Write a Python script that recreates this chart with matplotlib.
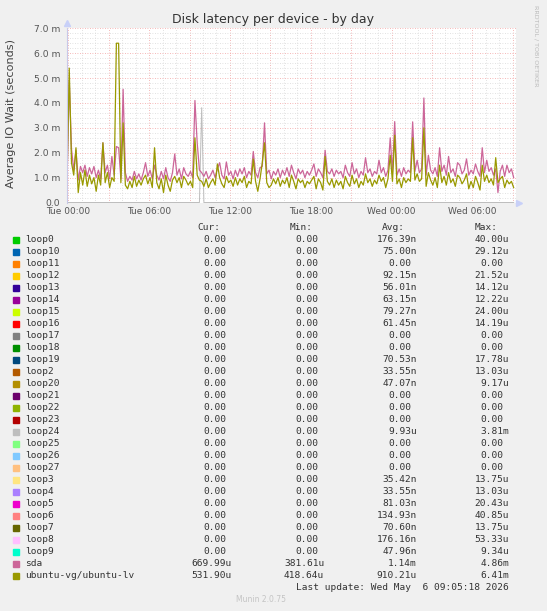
import numpy as np
import matplotlib
matplotlib.use('Agg')
import matplotlib.pyplot as plt
from matplotlib.patches import Rectangle

# ---- data (milliseconds of IO wait, sampled every 10 min from Mon 23:54) ----
sda = [
    0.85, 4.90, 2.15, 1.30, 2.10, 0.90, 1.45, 1.20, 1.50, 1.05, 1.40, 1.15,
    1.45, 1.00, 1.30, 0.95, 2.40, 1.20, 1.50, 0.95, 1.85, 1.10, 2.25, 2.20,
    0.95, 4.55, 1.20, 0.85, 1.05, 0.90, 1.25, 0.95, 1.15, 0.90, 1.20, 1.60,
    1.05, 1.30, 0.95, 1.50, 1.10, 0.90, 1.25, 0.95, 1.40, 1.00, 0.85, 1.20,
    1.95, 1.10, 1.35, 0.95, 1.40, 1.15, 1.05, 1.25, 1.00, 4.10, 2.40, 1.30,
    1.20, 1.05, 1.25, 0.95, 1.10, 1.30, 1.00, 1.35, 1.60, 1.10, 0.95, 1.63,
    1.10, 1.25, 0.95, 1.30, 1.05, 1.35, 1.15, 1.40, 1.00, 1.25, 1.10, 2.05,
    1.20, 1.00, 1.40, 1.45, 3.20, 1.15, 1.30, 0.95, 1.25, 1.10, 1.35, 1.00,
    1.30, 1.10, 1.40, 1.05, 1.50, 1.20, 0.95, 1.35, 1.15, 1.30, 1.00, 1.25,
    1.10, 1.30, 1.55, 1.05, 1.35, 1.20, 1.00, 2.10, 1.25, 1.15, 1.35, 1.05,
    1.30, 1.15, 1.25, 1.00, 1.50, 1.20, 1.05, 1.60, 1.15, 1.35, 1.00, 1.25,
    1.10, 1.80, 1.20, 1.35, 1.05, 1.25, 1.15, 1.70, 1.20, 1.40, 1.05, 1.30,
    2.60, 1.20, 3.25, 1.10, 1.35, 1.05, 1.40, 1.15, 1.30, 1.20, 3.24, 1.25,
    1.70, 1.20, 1.35, 4.20, 1.10, 1.90, 1.30, 1.15, 1.40, 1.05, 2.20, 1.25,
    1.50, 1.10, 1.85, 1.20, 1.35, 1.05, 1.60, 1.50, 1.15, 1.30, 1.75, 1.10,
    1.30, 1.15, 1.55, 1.25, 1.05, 2.20, 1.20, 1.70, 1.25, 1.40, 1.10, 1.35,
    0.40, 1.25, 1.50, 1.05, 1.50, 1.20, 1.35, 1.00,
]
ubuntu_lv = [
    0.80, 5.40, 1.60, 1.10, 2.20, 0.40, 1.20, 0.70, 1.30, 0.65, 1.10, 0.75,
    1.00, 0.45, 1.10, 0.70, 2.40, 0.80, 1.20, 0.60, 1.00, 0.85, 6.40, 6.40,
    0.80, 3.20, 0.70, 0.55, 0.85, 0.60, 1.05, 0.65, 0.90, 0.70, 0.95, 1.10,
    0.75, 1.00, 0.60, 2.20, 0.80, 0.55, 0.95, 0.40, 1.10, 0.70, 0.45, 0.90,
    1.05, 0.80, 1.00, 0.60, 1.05, 0.90, 0.70, 0.85, 0.60, 2.60, 1.10, 0.90,
    0.85, 0.65, 0.95, 0.60, 0.80, 0.95, 0.70, 1.55, 1.00, 0.75, 0.60, 1.05,
    0.80, 0.90, 0.65, 1.00, 0.70, 0.95, 0.80, 1.05, 0.60, 0.85, 0.75, 1.75,
    0.85, 0.45, 0.95, 1.60, 2.40, 0.80, 0.60, 0.70, 0.95, 0.75, 1.00, 0.65,
    0.90, 0.75, 1.00, 0.60, 1.10, 0.85, 0.55, 0.95, 0.80, 0.90, 0.60, 0.85,
    0.75, 0.90, 1.05, 0.55, 0.95, 0.80, 0.50, 1.85, 0.85, 0.70, 0.95, 0.60,
    0.90, 0.70, 0.85, 0.55, 1.05, 0.80, 0.65, 1.10, 0.75, 0.95, 0.60, 0.85,
    0.70, 1.15, 0.80, 0.95, 0.65, 0.90, 0.75, 1.10, 0.85, 1.00, 0.60, 0.95,
    1.90, 0.85, 2.70, 0.75, 0.95, 0.60, 1.00, 0.80, 0.95, 0.85, 2.60, 0.90,
    1.15, 0.85, 0.95, 3.00, 0.65, 1.20, 0.90, 0.70, 1.00, 0.60, 1.50, 0.80,
    1.05, 0.70, 1.20, 0.80, 0.95, 0.65, 1.10, 1.00, 0.75, 0.90, 1.15, 0.55,
    0.85, 0.60, 1.05, 0.80, 0.50, 1.50, 0.85, 1.10, 0.80, 0.95, 0.70, 1.80,
    0.80, 0.95, 1.05, 0.60, 0.90, 0.75, 0.85, 0.60,
]
# loop devices are flat at zero except the one loop24 spike
loop24_spike_index = 60
loop24_spike_value = 3.81

names = ['loop0', 'loop10', 'loop11', 'loop12', 'loop13', 'loop14', 'loop15',
         'loop16', 'loop17', 'loop18', 'loop19', 'loop2', 'loop20', 'loop21',
         'loop22', 'loop23', 'loop24', 'loop25', 'loop26', 'loop27', 'loop3',
         'loop4', 'loop5', 'loop6', 'loop7', 'loop8', 'loop9', 'sda',
         'ubuntu-vg/ubuntu-lv']
colors = ['#00CC00', '#0066B3', '#FF8000', '#FFCC00', '#330099', '#990099',
          '#CCFF00', '#FF0000', '#808080', '#008F00', '#00487D', '#B35A00',
          '#B38F00', '#6B006B', '#8FB300', '#B30000', '#BEBEBE', '#80FF80',
          '#80C9FF', '#FFC080', '#FFE680', '#AA80FF', '#EE00CC', '#FF8080',
          '#666600', '#FFBFFF', '#00FFCC', '#CC6699', '#999900']
cur = ['0.00'] * 27 + ['669.99u', '531.90u']
mins = ['0.00'] * 27 + ['381.61u', '418.64u']
avgs = ['176.39n', '75.00n', '0.00', '92.15n', '56.01n', '63.15n', '79.27n',
        '61.45n', '0.00', '0.00', '70.53n', '33.55n', '47.07n', '0.00', '0.00',
        '0.00', '9.93u', '0.00', '0.00', '0.00', '35.42n', '33.55n', '81.03n',
        '134.93n', '70.60n', '176.16n', '47.96n', '1.14m', '910.21u']
maxs = ['40.00u', '29.12u', '0.00', '21.52u', '14.12u', '12.22u', '24.00u',
        '14.19u', '0.00', '0.00', '17.78u', '13.03u', '9.17u', '0.00', '0.00',
        '0.00', '3.81m', '0.00', '0.00', '0.00', '13.75u', '13.03u', '20.43u',
        '40.85u', '13.75u', '53.33u', '9.34u', '4.86m', '6.41m']
xtick_hours = [0, 6, 12, 18, 24, 30]
xtick_labels = ['Tue 00:00', 'Tue 06:00', 'Tue 12:00', 'Tue 18:00',
                'Wed 00:00', 'Wed 06:00']
ytick_vals = [0, 1, 2, 3, 4, 5, 6, 7]
ytick_labels = ['0.0', '1.0 m', '2.0 m', '3.0 m', '4.0 m', '5.0 m', '6.0 m', '7.0 m']

W, H = 547, 611
fig = plt.figure(figsize=(W / 100, H / 100), dpi=100)
fig.patch.set_facecolor('#F0F0F0')


def fx(px):
    return px / W


def fy(py):
    return 1 - py / H


def txt(x, y, s, **kw):
    return fig.text(fx(x), fy(y), s, **kw)


# zero sits on the centre of pixel row 202.5 so the 1px zero line is crisp
ax = fig.add_axes([fx(67), fy(203.0), fx(516) - fx(67), fy(28.3) - fy(203.0)])
ax.set_facecolor('#FFFFFF')
ax.set_xlim(-0.1, 33.24)
ax.set_ylim(-0.5 / 24.886, 7.0)
for s in ax.spines.values():
    s.set_visible(False)
ax.tick_params(length=0, labelsize=6.6, colors='#555555')

# grid
for h in range(0, 34):
    c = '#F2A0A0' if h % 3 == 0 else '#D8D8D8'
    ax.axvline(h, color=c, lw=0.6, ls=(0, (1, 2)), zorder=0)
for v in np.arange(0.2, 7.01, 0.2):
    major = abs(v - round(v)) < 1e-6
    ax.axhline(v, color='#F2A0A0' if major else '#D8D8D8', lw=0.6,
               ls=(0, (1, 2)), zorder=0, clip_on=False)

ax.set_xticks(xtick_hours, xtick_labels)
ax.set_yticks(ytick_vals, ytick_labels)
ax.tick_params(axis='x', labelsize=6.5, pad=3)
ax.tick_params(axis='y', pad=5)

hours = -0.1 + np.arange(len(sda)) / 6.0

for i, name in enumerate(names[:27]):
    vals = np.zeros(len(sda))
    if name == 'loop24':
        vals[loop24_spike_index] = loop24_spike_value
    ax.plot(hours, vals, color=colors[i], lw=0.72, zorder=2)
ax.plot(hours, sda, color=colors[27], lw=0.9, zorder=3)
ax.plot(hours, ubuntu_lv, color=colors[28], lw=0.9, zorder=4)

# axis line + arrows
ax.plot([-0.1, -0.1], [0, 7.0], color='#C8C8E8', lw=0.8, clip_on=False, zorder=5)
ax.plot([-0.1], [7.22], marker='^', color='#C8D0F8', ms=4, clip_on=False, zorder=5)
ax.plot([33.45], [0], marker='>', color='#C8D0F8', ms=4, clip_on=False, zorder=5)

# titles
txt(273, 19, 'Disk latency per device - by day', ha='center', va='center',
    fontsize=9, color='#333333')
txt(11, 113, 'Average IO Wait (seconds)', ha='center', va='center',
    rotation=90, fontsize=8.1, color='#444444')
txt(536.5, 5, 'RRDTOOL / TOBI OETIKER', ha='center', va='top', rotation=270,
    fontsize=4.6, color='#BBBBBB')

# legend
mono = 'DejaVu Sans Mono'
fs = 6.8
cw = 5.7
col_right = [231.7, 324.3, 416.7, 509.0]
headers = ['Cur:', 'Min:', 'Avg:', 'Max:']
for r, h in zip(col_right, headers):
    txt(r - 2 * cw, 227.3, h, ha='right', va='center', family=mono,
        fontsize=fs, color='#333333')

for i, name in enumerate(names):
    y = 239.7 + 12.0 * i
    fig.patches.append(Rectangle((fx(13.3), fy(y + 3)), fx(6), 6 / H,
                                 transform=fig.transFigure, color=colors[i],
                                 figure=fig))
    txt(25, y, name, ha='left', va='center', family=mono, fontsize=fs,
        color='#333333')
    for r, col in zip(col_right, [cur, mins, avgs, maxs]):
        s = col[i]
        xr = r if s[-1].isalpha() else r - cw
        txt(xr, y, s, ha='right', va='center', family=mono, fontsize=fs,
            color='#333333')

txt(509, 587.3, 'Last update: Wed May  6 09:05:18 2026', ha='right',
    va='center', family=mono, fontsize=fs, color='#333333')
txt(261, 600, 'Munin 2.0.75', ha='center', va='center', fontsize=5.5,
    color='#C4C4C4')

fig.savefig('out.png', dpi=100, facecolor=fig.get_facecolor())
